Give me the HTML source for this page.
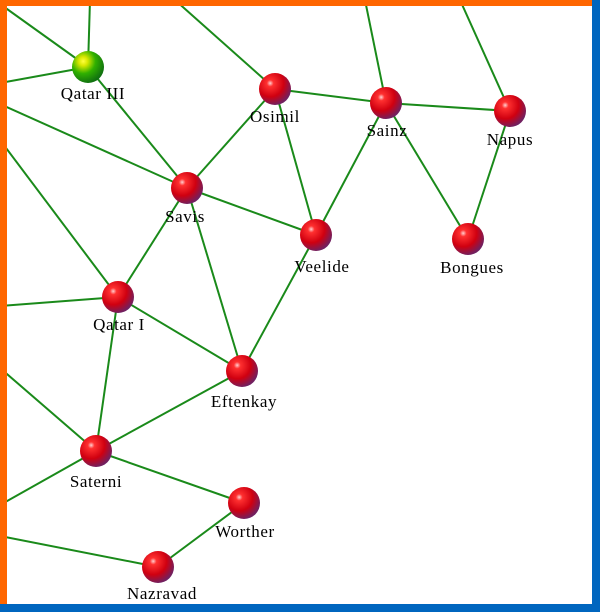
<!DOCTYPE html>
<html><head><style>
html,body{margin:0;padding:0;background:#fff}
svg{display:block}
text{font-family:"Liberation Serif",serif;font-size:17px;letter-spacing:0.6px;fill:#000;text-anchor:middle}
</style></head><body>
<svg width="600" height="612" viewBox="0 0 600 612">
<defs>
<radialGradient id="r" cx="0.35" cy="0.32" r="0.7">
<stop offset="0" stop-color="#ffd0d0"/>
<stop offset="0.15" stop-color="#ff3030"/>
<stop offset="0.6" stop-color="#d00010"/>
<stop offset="1" stop-color="#702060"/>
</radialGradient>
<radialGradient id="g" cx="0.35" cy="0.32" r="0.7">
<stop offset="0" stop-color="#ffff40"/>
<stop offset="0.2" stop-color="#d8e800"/>
<stop offset="0.55" stop-color="#30b000"/>
<stop offset="1" stop-color="#107010"/>
</radialGradient>
</defs>
<rect width="600" height="612" fill="#fff"/>
<g stroke="#1a8a1a" stroke-width="2" fill="none">
<line x1="88" y1="67" x2="90" y2="0"/>
<line x1="88" y1="67" x2="0" y2="4"/>
<line x1="88" y1="67" x2="0" y2="83"/>
<line x1="88" y1="67" x2="187" y2="188"/>
<line x1="0" y1="104" x2="187" y2="188"/>
<line x1="0" y1="140" x2="118" y2="297"/>
<line x1="275" y1="89" x2="175" y2="0"/>
<line x1="275" y1="89" x2="187" y2="188"/>
<line x1="275" y1="89" x2="386" y2="103"/>
<line x1="275" y1="89" x2="316" y2="235"/>
<line x1="386" y1="103" x2="365" y2="0"/>
<line x1="386" y1="103" x2="510" y2="111"/>
<line x1="386" y1="103" x2="316" y2="235"/>
<line x1="386" y1="103" x2="468" y2="239"/>
<line x1="510" y1="111" x2="460" y2="0"/>
<line x1="510" y1="111" x2="468" y2="239"/>
<line x1="187" y1="188" x2="316" y2="235"/>
<line x1="187" y1="188" x2="118" y2="297"/>
<line x1="187" y1="188" x2="242" y2="371"/>
<line x1="118" y1="297" x2="0" y2="306"/>
<line x1="118" y1="297" x2="242" y2="371"/>
<line x1="118" y1="297" x2="96" y2="451"/>
<line x1="316" y1="235" x2="242" y2="371"/>
<line x1="242" y1="371" x2="96" y2="451"/>
<line x1="96" y1="451" x2="0" y2="368"/>
<line x1="96" y1="451" x2="0" y2="505"/>
<line x1="96" y1="451" x2="244" y2="503"/>
<line x1="244" y1="503" x2="158" y2="567"/>
<line x1="158" y1="567" x2="0" y2="536"/>
</g>
<circle cx="88" cy="67" r="16" fill="url(#g)"/>
<g fill="url(#r)">
<circle cx="275" cy="89" r="16"/>
<circle cx="386" cy="103" r="16"/>
<circle cx="510" cy="111" r="16"/>
<circle cx="187" cy="188" r="16"/>
<circle cx="316" cy="235" r="16"/>
<circle cx="468" cy="239" r="16"/>
<circle cx="118" cy="297" r="16"/>
<circle cx="242" cy="371" r="16"/>
<circle cx="96" cy="451" r="16"/>
<circle cx="244" cy="503" r="16"/>
<circle cx="158" cy="567" r="16"/>
</g>
<text x="93" y="99">Qatar III</text>
<text x="275" y="122">Osimil</text>
<text x="387" y="136">Sainz</text>
<text x="510" y="145">Napus</text>
<text x="185" y="222">Savis</text>
<text x="322" y="272">Veelide</text>
<text x="472" y="273">Bongues</text>
<text x="119" y="330">Qatar I</text>
<text x="244" y="407">Eftenkay</text>
<text x="96" y="487">Saterni</text>
<text x="245" y="537">Worther</text>
<text x="162" y="599">Nazravad</text>
<text x="0" y="124">I</text>
<rect x="0" y="0" width="600" height="6" fill="#ff6600"/>
<rect x="0" y="0" width="7" height="612" fill="#ff6600"/>
<rect x="592" y="0" width="8" height="612" fill="#0066bf"/>
<rect x="0" y="604" width="600" height="8" fill="#0066bf"/>
</svg>
</body></html>
